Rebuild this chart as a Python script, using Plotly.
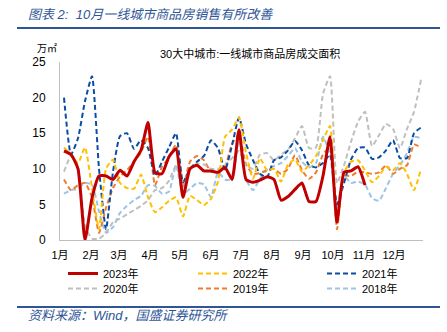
import pandas as pd
import plotly.graph_objects as go

# weekly observation dates (displayed on a common Jan–Dec axis)
week_dates = pd.date_range("2023-01-05", periods=52, freq="7D")

month_ticks = pd.date_range("2023-01-01", periods=12, freq="MS")
month_labels = ["1月", "2月", "3月", "4月", "5月", "6月", "7月", "8月", "9月", "10月", "11月", "12月"]

y_2023 = [12.5, 12.0, 10.0, 0.0, 5.9, 9.0, 9.0, 8.5, 9.8, 9.0, 11.0, 12.6, 16.5, 9.5,
          9.3, 11.7, 12.8, 6.0, 10.0, 10.5, 9.7, 9.7, 9.5, 10.2, 8.5, 15.5, 8.5, 8.1,
          8.4, 8.9, 8.5, 5.6, 6.1, 7.1, 8.0, 5.4, 5.4, 9.0, 14.5, 2.5, 9.5, 9.7, 10.3, 7.7]

y_2022 = [13.0, 12.0, 10.8, 13.0, 7.3, 1.5, 10.0, 11.3, 8.0, 7.3, 7.2, 9.2, 6.0, 3.9,
          4.6, 5.5, 6.0, 3.3, 6.2, 5.6, 4.9, 5.8, 8.2, 14.5, 15.5, 17.2, 12.3, 8.6,
          11.5, 9.8, 10.0, 8.2, 10.6, 11.3, 9.6, 10.5, 11.8, 14.0, 16.0, 2.5, 9.5, 11.0,
          11.2, 9.8, 8.1, 9.0, 10.3, 9.8, 10.8, 9.3, 7.0, 10.0]

y_2021 = [20.0, 12.0, 14.3, 19.5, 23.0, 10.0, 1.5, 9.6, 14.6, 15.0, 12.8, 14.0, 12.9, 9.0,
          11.0, 13.0, 15.0, 8.1, 10.0, 11.0, 11.8, 14.0, 12.9, 9.8, 13.3, 17.2, 13.5, 11.2,
          9.3, 8.8, 11.2, 11.6, 12.6, 13.9, 12.6, 10.5, 10.2, 10.8, 12.0, 5.0, 8.0, 11.3,
          12.9, 13.0, 11.4, 11.6, 12.6, 14.0, 11.5, 11.5, 15.0, 15.8]

y_2020 = [9.6, 11.8, 10.2, 2.0, 0.2, 0.2, 1.0, 2.5, 3.0, 3.6, 4.2, 4.8, 5.6, 7.0,
          7.3, 8.3, 10.5, 7.3, 10.0, 10.7, 10.6, 10.0, 10.0, 10.5, 11.5, 12.5, 10.5, 10.0,
          12.0, 12.2, 11.2, 12.0, 12.7, 14.3, 16.0, 12.9, 13.0, 20.5, 23.0, 8.0, 10.5, 13.8,
          16.6, 18.0, 13.2, 14.7, 16.3, 15.6, 12.9, 15.6, 18.0, 22.5]

y_2019 = [8.5, 7.0, 7.7, 8.0, 6.0, 1.0, 4.5, 7.3, 8.9, 9.8, 11.0, 12.3, 14.5, 7.7,
          10.3, 11.6, 13.4, 7.5, 11.0, 11.8, 11.2, 9.6, 9.8, 10.3, 13.5, 14.8, 10.6, 9.3,
          9.4, 9.8, 10.0, 9.3, 10.0, 11.9, 9.8, 8.6, 9.5, 12.0, 13.0, 1.5, 9.0, 9.0,
          9.6, 9.5, 9.3, 9.5, 10.5, 9.3, 10.0, 10.5, 13.4, 13.0]

y_2018 = [6.5, 7.0, 7.2, 8.0, 7.8, 4.0, 1.0, 1.8, 3.8, 4.8, 5.6, 6.2, 7.7, 7.6,
          6.5, 6.8, 10.5, 6.5, 7.2, 8.0, 7.8, 6.0, 9.5, 8.5, 8.5, 14.5, 8.5, 7.0,
          8.6, 9.9, 10.4, 10.8, 11.8, 12.9, 11.0, 10.2, 10.8, 14.5, 12.0, 4.5, 9.0, 8.0,
          8.2, 7.8, 5.9, 5.5, 7.3, 9.3, 10.5, 12.2, 14.5, 14.3]

series_names = ["2018年", "2019年", "2020年", "2021年", "2022年", "2023年"]
series_values = [y_2018, y_2019, y_2020, y_2021, y_2022, y_2023]
series_colors = ["#9DC3E6", "#ED7D31", "#BFBFBF", "#0B4DA2", "#FFC000", "#C00000"]
# one legend box per series, laid out in a 3x2 grid (column, row)
series_legend_col = [3, 2, 1, 3, 2, 1]
series_legend_row = [2, 2, 2, 1, 1, 1]

FONT = "Liberation Sans, Arial, Noto Sans CJK SC, sans-serif"
BLUE = "#2F5597"

# helpers to convert pixel positions to paper coordinates
L, R, T, B, W, H = 60, 423, 62, 240, 447, 332
def px(x):
    return (x - L) / (R - L)
def py(y):
    return (B - y) / (B - T)

COL_X = {1: 63, 2: 193, 3: 322}
ROW_TOP = {1: 259, 2: 274}

fig = go.Figure()
legend_layout = {}
for k, (name, vals, col, lc, lr) in enumerate(zip(series_names, series_values, series_colors,
                                                   series_legend_col, series_legend_row)):
    solid = name == "2023年"
    lg = "legend" if k == 0 else f"legend{k + 1}"
    fig.add_trace(go.Scatter(
        x=week_dates[:len(vals)], y=vals, name=name, mode="lines",
        legend=lg,
        line=dict(color=col, width=3 if solid else 2, shape="spline", smoothing=0.5,
                  dash="solid" if solid else "5px,3px"),
    ))
    legend_layout[lg] = dict(orientation="v", x=px(COL_X[lc]), xanchor="left",
                             y=py(ROW_TOP[lr]), yanchor="top",
                             font=dict(size=11), itemwidth=30,
                             bgcolor="rgba(0,0,0,0)")

fig.update_layout(
    width=W, height=H,
    margin=dict(l=L, r=W - R, t=T, b=H - B),
    paper_bgcolor="white", plot_bgcolor="white",
    font=dict(family=FONT, size=11, color="#000000"),
    showlegend=True,
    xaxis=dict(type="date", range=["2023-01-01", "2023-12-30"],
               tickvals=list(month_ticks), ticktext=month_labels,
               showgrid=False, zeroline=False, showline=True,
               linecolor="#BFBFBF", linewidth=1, ticks="",
               tickfont=dict(size=11), ticklabelstandoff=5),
    yaxis=dict(range=[0, 25], tickvals=[0, 5, 10, 15, 20, 25],
               showgrid=False, zeroline=False, showline=True,
               linecolor="#BFBFBF", linewidth=1, ticks="",
               tickfont=dict(size=12), ticklabelstandoff=11),
    **legend_layout,
)

fig.add_annotation(text="<i>图表 2:  10月一线城市商品房销售有所改善</i>",
                   xref="paper", yref="paper", x=px(26), y=py(14),
                   xanchor="left", yanchor="middle", showarrow=False,
                   font=dict(size=13, color=BLUE, family=FONT))
fig.add_annotation(text="30大中城市:一线城市商品房成交面积",
                   xref="paper", yref="paper", x=px(250), y=py(53),
                   xanchor="center", yanchor="middle", showarrow=False,
                   font=dict(size=11, color="#000000", family=FONT))
fig.add_annotation(text="万㎡", xref="paper", yref="paper", x=px(35), y=py(48),
                   xanchor="left", yanchor="middle", showarrow=False,
                   font=dict(size=10, color="#000000", family=FONT))
fig.add_annotation(text="<i>资料来源：Wind，国盛证券研究所</i>",
                   xref="paper", yref="paper", x=px(26), y=py(315),
                   xanchor="left", yanchor="middle", showarrow=False,
                   font=dict(size=13, color=BLUE, family=FONT))

for yy in (28, 307):
    fig.add_shape(type="line", xref="paper", yref="paper",
                  x0=px(17), x1=px(440), y0=py(yy), y1=py(yy),
                  line=dict(color=BLUE, width=2))

fig.write_html("out.html")
